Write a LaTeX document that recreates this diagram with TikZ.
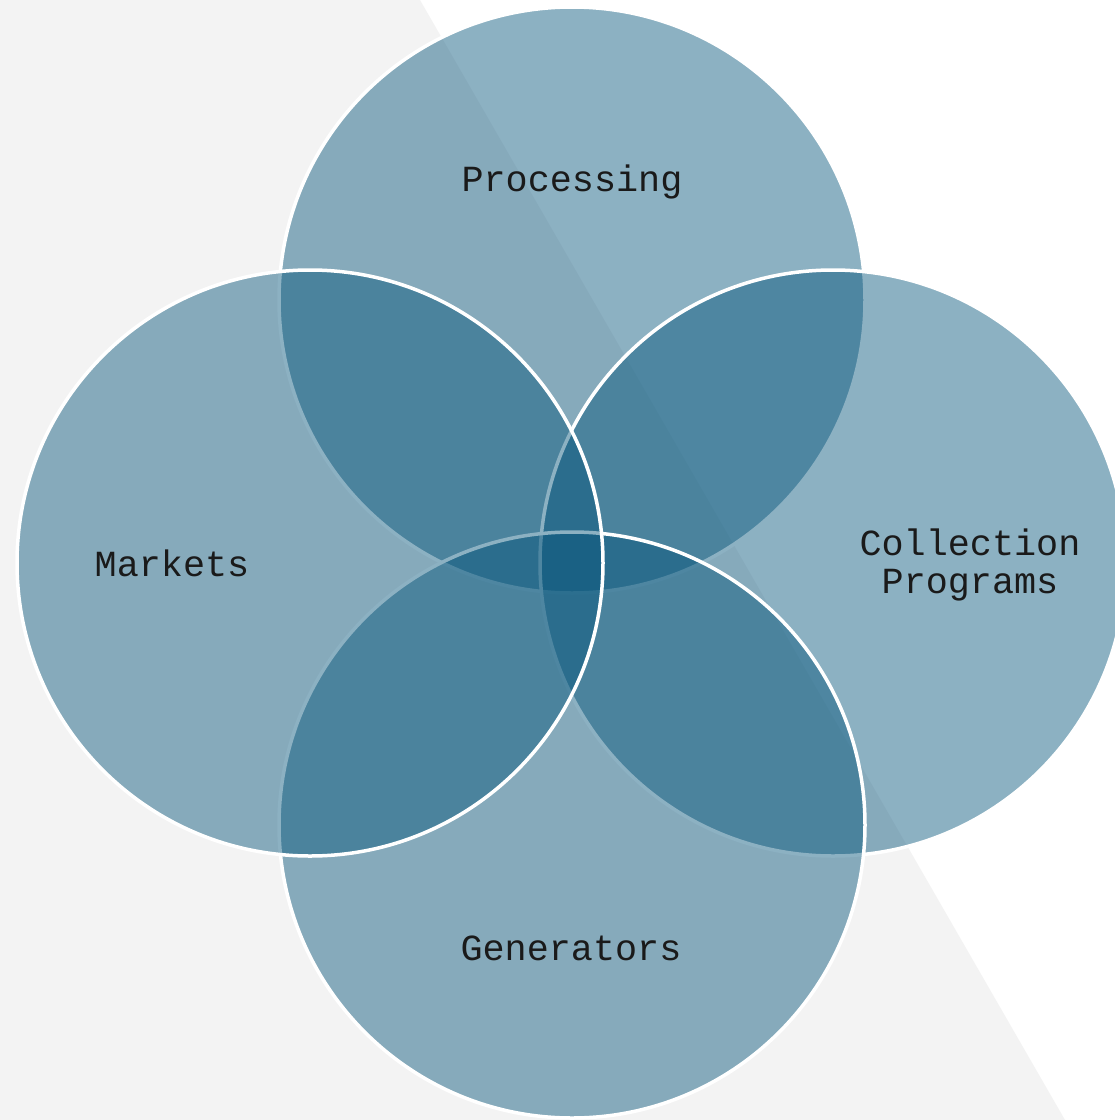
\documentclass[tikz,border=0pt]{standalone}
\usepackage{fontspec}
\setmonofont{Liberation Mono}
\definecolor{bggray}{HTML}{F3F3F3}
\definecolor{venn}{RGB}{6,85,123}
\definecolor{txt}{HTML}{1A1A1A}
\begin{document}
\begin{tikzpicture}[x=1pt,y=-1pt,
  vcirc/.style={circle, minimum size=586pt, inner sep=0pt, fill=venn, fill opacity=0.46, draw=white, line width=3.5pt},
  lbl/.style={text=txt, align=center, font=\ttfamily\fontsize{36.8}{38}\selectfont}]
\useasboundingbox (0,0) rectangle (1115,1120);
\clip (0,0) rectangle (1115,1120);
\fill[white] (0,0) rectangle (1115,1120);
\fill[bggray] (0,0) -- (420,0) -- (1065,1120) -- (0,1120) -- cycle;
\node[vcirc] (proc) at (572,300) {};
\node[vcirc] (coll) at (833,563) {};
\node[vcirc] (gen) at (572,825) {};
\node[vcirc] (mark) at (310,563) {};
\node[lbl] (tproc) at (572,182) {Processing};
\node[lbl] (tcoll) at (970,565) {Collection\\Programs};
\node[lbl] (tgen) at (571,948) {Generators};
\node[lbl] (tmark) at (172,563) {Markets};
\end{tikzpicture}
\end{document}
